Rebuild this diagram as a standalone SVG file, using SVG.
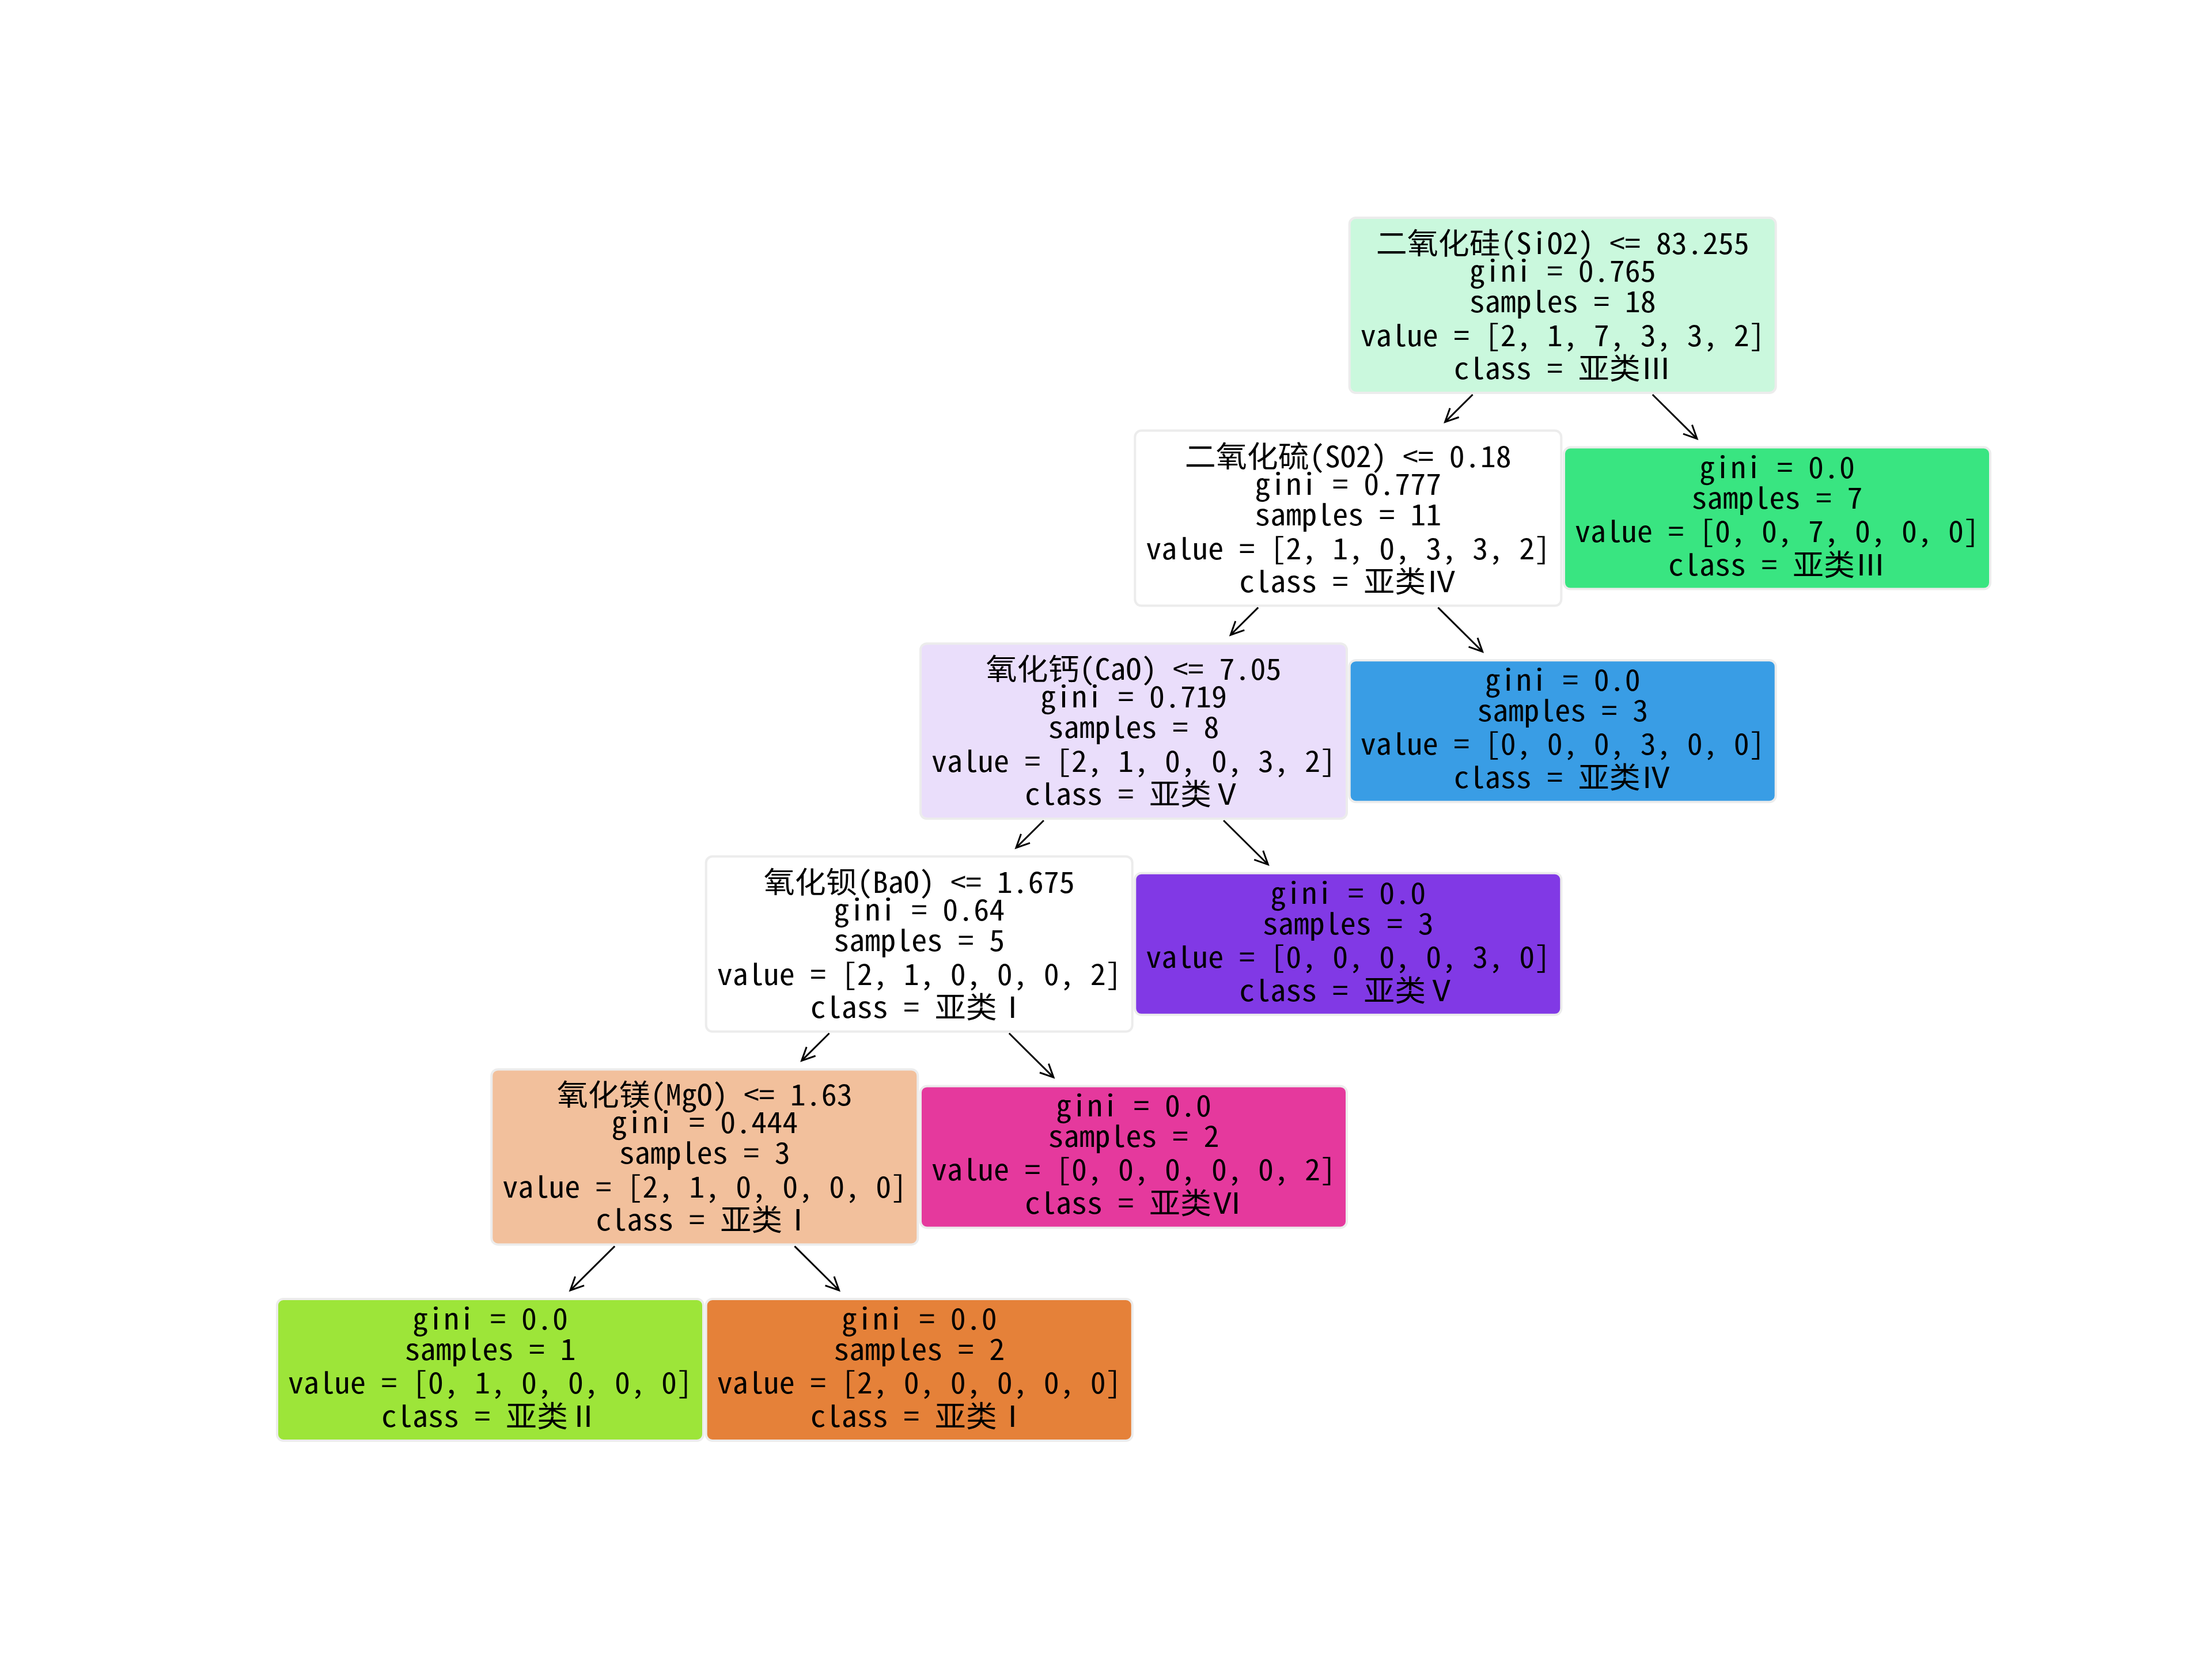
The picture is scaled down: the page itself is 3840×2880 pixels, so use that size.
<svg xmlns="http://www.w3.org/2000/svg" width="3840" height="2880" viewBox="0 0 3840 2880">
  <style>
    .box { stroke: #ececec; stroke-width: 4; }
    text { font-family: "Noto Sans Mono CJK SC", "Noto Sans CJK SC", "DejaVu Sans Mono", monospace; font-size: 51px; fill: #000; text-anchor: middle; }
    .edge { stroke: #000; stroke-width: 3; fill: none; marker-end: url(#head); }
  </style>
  <defs>
    <marker id="head" markerUnits="userSpaceOnUse" orient="auto" refX="0" refY="0" markerWidth="60" markerHeight="60" viewBox="-30 -30 60 60" overflow="visible">
      <path d="M -23 -11 L 0 0 L -23 11" fill="none" stroke="#000" stroke-width="3"/>
    </marker>
  </defs>
  <rect width="3840" height="2880" fill="#fff"/>

  <!-- connectors: parent bottom to child top -->
  <g id="edges">
    <line class="edge" x1="2556.6" y1="685" x2="2508.6" y2="732.6"/>
    <line class="edge" x1="2868.8" y1="685" x2="2946" y2="761.6"/>
    <line class="edge" x1="2184.2" y1="1054.6" x2="2136.2" y2="1102.2"/>
    <line class="edge" x1="2496.4" y1="1054.6" x2="2573.6" y2="1131.2"/>
    <line class="edge" x1="1811.9" y1="1424.2" x2="1763.9" y2="1471.8"/>
    <line class="edge" x1="2124.1" y1="1424.2" x2="2201.3" y2="1500.8"/>
    <line class="edge" x1="1439.6" y1="1793.8" x2="1391.6" y2="1841.4"/>
    <line class="edge" x1="1751.8" y1="1793.8" x2="1829" y2="1870.4"/>
    <line class="edge" x1="1067.2" y1="2163.4" x2="990" y2="2240"/>
    <line class="edge" x1="1379.4" y1="2163.4" x2="1456.6" y2="2240"/>
  </g>

  <!-- split nodes: 5 lines, leaves: 4 lines -->
  <g id="node-sio2" transform="translate(2712.7,530)">
    <rect class="box" x="-370" y="-152" width="740" height="304" rx="11" fill="#caf8dd"/>
    <text y="-89" textLength="648" lengthAdjust="spacingAndGlyphs">二氧化硅(SiO2) &lt;= 83.255</text>
    <text y="-41" textLength="324" lengthAdjust="spacingAndGlyphs">gini = 0.765</text>
    <text y="12" textLength="324" lengthAdjust="spacingAndGlyphs">samples = 18</text>
    <text y="71" textLength="702" lengthAdjust="spacingAndGlyphs">value = [2, 1, 7, 3, 3, 2]</text>
    <text y="128" textLength="378" lengthAdjust="spacingAndGlyphs">class = 亚类Ⅲ</text>
  </g>

  <g id="node-so2" transform="translate(2340.3,899.6)">
    <rect class="box" x="-370" y="-152" width="740" height="304" rx="11" fill="#ffffff"/>
    <text y="-89" textLength="567" lengthAdjust="spacingAndGlyphs">二氧化硫(SO2) &lt;= 0.18</text>
    <text y="-41" textLength="324" lengthAdjust="spacingAndGlyphs">gini = 0.777</text>
    <text y="12" textLength="324" lengthAdjust="spacingAndGlyphs">samples = 11</text>
    <text y="71" textLength="702" lengthAdjust="spacingAndGlyphs">value = [2, 1, 0, 3, 3, 2]</text>
    <text y="128" textLength="378" lengthAdjust="spacingAndGlyphs">class = 亚类Ⅳ</text>
  </g>

  <g id="leaf-3" transform="translate(3085,899.6)">
    <rect class="box" x="-370" y="-123" width="740" height="246" rx="11" fill="#39e581"/>
    <text y="-70" textLength="270" lengthAdjust="spacingAndGlyphs">gini = 0.0</text>
    <text y="-17" textLength="297" lengthAdjust="spacingAndGlyphs">samples = 7</text>
    <text y="41" textLength="702" lengthAdjust="spacingAndGlyphs">value = [0, 0, 7, 0, 0, 0]</text>
    <text y="99" textLength="378" lengthAdjust="spacingAndGlyphs">class = 亚类Ⅲ</text>
  </g>

  <g id="node-cao" transform="translate(1968,1269.2)">
    <rect class="box" x="-370" y="-152" width="740" height="304" rx="11" fill="#eadefb"/>
    <text y="-89" textLength="513" lengthAdjust="spacingAndGlyphs">氧化钙(CaO) &lt;= 7.05</text>
    <text y="-41" textLength="324" lengthAdjust="spacingAndGlyphs">gini = 0.719</text>
    <text y="12" textLength="297" lengthAdjust="spacingAndGlyphs">samples = 8</text>
    <text y="71" textLength="702" lengthAdjust="spacingAndGlyphs">value = [2, 1, 0, 0, 3, 2]</text>
    <text y="128" textLength="378" lengthAdjust="spacingAndGlyphs">class = 亚类Ⅴ</text>
  </g>

  <g id="leaf-4" transform="translate(2712.7,1269.2)">
    <rect class="box" x="-370" y="-123" width="740" height="246" rx="11" fill="#399de5"/>
    <text y="-70" textLength="270" lengthAdjust="spacingAndGlyphs">gini = 0.0</text>
    <text y="-17" textLength="297" lengthAdjust="spacingAndGlyphs">samples = 3</text>
    <text y="41" textLength="702" lengthAdjust="spacingAndGlyphs">value = [0, 0, 0, 3, 0, 0]</text>
    <text y="99" textLength="378" lengthAdjust="spacingAndGlyphs">class = 亚类Ⅳ</text>
  </g>

  <g id="node-bao" transform="translate(1595.7,1638.8)">
    <rect class="box" x="-370" y="-152" width="740" height="304" rx="11" fill="#ffffff"/>
    <text y="-89" textLength="540" lengthAdjust="spacingAndGlyphs">氧化钡(BaO) &lt;= 1.675</text>
    <text y="-41" textLength="297" lengthAdjust="spacingAndGlyphs">gini = 0.64</text>
    <text y="12" textLength="297" lengthAdjust="spacingAndGlyphs">samples = 5</text>
    <text y="71" textLength="702" lengthAdjust="spacingAndGlyphs">value = [2, 1, 0, 0, 0, 2]</text>
    <text y="128" textLength="378" lengthAdjust="spacingAndGlyphs">class = 亚类Ⅰ</text>
  </g>

  <g id="leaf-5" transform="translate(2340.3,1638.8)">
    <rect class="box" x="-370" y="-123" width="740" height="246" rx="11" fill="#8139e5"/>
    <text y="-70" textLength="270" lengthAdjust="spacingAndGlyphs">gini = 0.0</text>
    <text y="-17" textLength="297" lengthAdjust="spacingAndGlyphs">samples = 3</text>
    <text y="41" textLength="702" lengthAdjust="spacingAndGlyphs">value = [0, 0, 0, 0, 3, 0]</text>
    <text y="99" textLength="378" lengthAdjust="spacingAndGlyphs">class = 亚类Ⅴ</text>
  </g>

  <g id="node-mgo" transform="translate(1223.3,2008.4)">
    <rect class="box" x="-370" y="-152" width="740" height="304" rx="11" fill="#f2c09c"/>
    <text y="-89" textLength="513" lengthAdjust="spacingAndGlyphs">氧化镁(MgO) &lt;= 1.63</text>
    <text y="-41" textLength="324" lengthAdjust="spacingAndGlyphs">gini = 0.444</text>
    <text y="12" textLength="297" lengthAdjust="spacingAndGlyphs">samples = 3</text>
    <text y="71" textLength="702" lengthAdjust="spacingAndGlyphs">value = [2, 1, 0, 0, 0, 0]</text>
    <text y="128" textLength="378" lengthAdjust="spacingAndGlyphs">class = 亚类Ⅰ</text>
  </g>

  <g id="leaf-6" transform="translate(1968,2008.4)">
    <rect class="box" x="-370" y="-123" width="740" height="246" rx="11" fill="#e5399d"/>
    <text y="-70" textLength="270" lengthAdjust="spacingAndGlyphs">gini = 0.0</text>
    <text y="-17" textLength="297" lengthAdjust="spacingAndGlyphs">samples = 2</text>
    <text y="41" textLength="702" lengthAdjust="spacingAndGlyphs">value = [0, 0, 0, 0, 0, 2]</text>
    <text y="99" textLength="378" lengthAdjust="spacingAndGlyphs">class = 亚类Ⅵ</text>
  </g>

  <g id="leaf-2" transform="translate(851,2378)">
    <rect class="box" x="-370" y="-123" width="740" height="246" rx="11" fill="#9de539"/>
    <text y="-70" textLength="270" lengthAdjust="spacingAndGlyphs">gini = 0.0</text>
    <text y="-17" textLength="297" lengthAdjust="spacingAndGlyphs">samples = 1</text>
    <text y="41" textLength="702" lengthAdjust="spacingAndGlyphs">value = [0, 1, 0, 0, 0, 0]</text>
    <text y="99" textLength="378" lengthAdjust="spacingAndGlyphs">class = 亚类Ⅱ</text>
  </g>

  <g id="leaf-1" transform="translate(1595.7,2378)">
    <rect class="box" x="-370" y="-123" width="740" height="246" rx="11" fill="#e58139"/>
    <text y="-70" textLength="270" lengthAdjust="spacingAndGlyphs">gini = 0.0</text>
    <text y="-17" textLength="297" lengthAdjust="spacingAndGlyphs">samples = 2</text>
    <text y="41" textLength="702" lengthAdjust="spacingAndGlyphs">value = [2, 0, 0, 0, 0, 0]</text>
    <text y="99" textLength="378" lengthAdjust="spacingAndGlyphs">class = 亚类Ⅰ</text>
  </g>
</svg>
